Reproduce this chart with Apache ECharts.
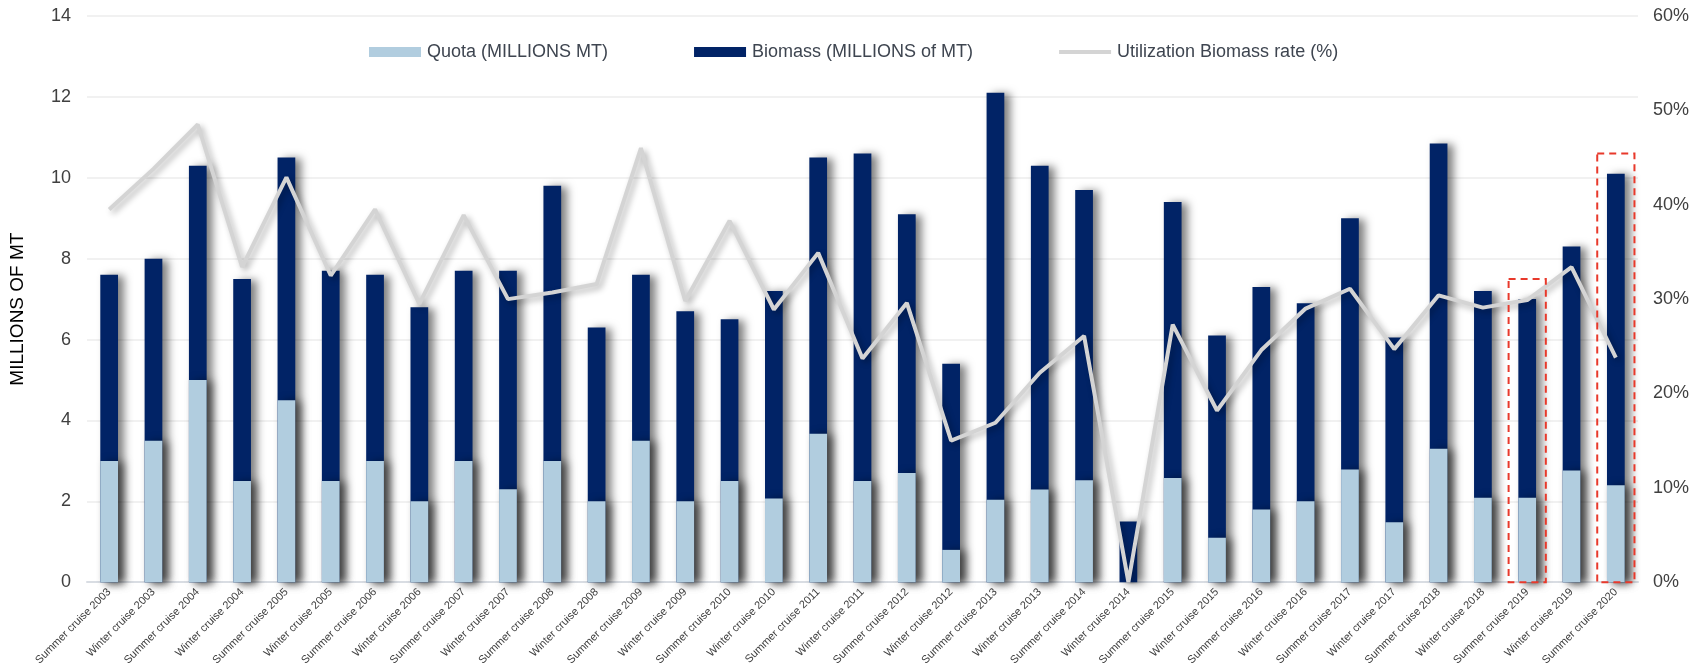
<!DOCTYPE html>
<html>
<head>
<meta charset="utf-8">
<script src="https://cdn.jsdelivr.net/npm/echarts@6/dist/echarts.min.js"></script>
<style>
html,body{margin:0;padding:0;background:#fff;}
#chart{width:1705px;height:668px;}
</style>
</head>
<body>
<div id="chart"></div>
<script>
var categories = [
  'Summer cruise 2003','Winter cruise 2003','Summer cruise 2004','Winter cruise 2004',
  'Summer cruise 2005','Winter cruise 2005','Summer cruise 2006','Winter cruise 2006',
  'Summer cruise 2007','Winter cruise 2007','Summer cruise 2008','Winter cruise 2008',
  'Summer cruise 2009','Winter cruise 2009','Summer cruise 2010','Winter cruise 2010',
  'Summer cruise 2011','Winter cruise 2011','Summer cruise 2012','Winter cruise 2012',
  'Summer cruise 2013','Winter cruise 2013','Summer cruise 2014','Winter cruise 2014',
  'Summer cruise 2015','Winter cruise 2015','Summer cruise 2016','Winter cruise 2016',
  'Summer cruise 2017','Winter cruise 2017','Summer cruise 2018','Winter cruise 2018',
  'Summer cruise 2019','Winter cruise 2019','Summer cruise 2020'
];
var biomass = [7.6,8.0,10.3,7.5,10.5,7.7,7.6,6.8,7.7,7.7,9.8,6.3,7.6,6.7,6.5,7.2,10.5,10.6,9.1,5.4,
  12.1,10.3,9.7,1.5,9.4,6.1,7.3,6.9,9.0,6.05,10.85,7.2,7.0,8.3,10.1];
var quota = [3.0,3.5,5.0,2.5,4.5,2.5,3.0,2.0,3.0,2.3,3.0,2.0,3.5,2.0,2.5,2.07,3.67,2.5,2.7,0.8,
  2.04,2.29,2.52,0,2.58,1.1,1.8,2.0,2.79,1.48,3.3,2.09,2.09,2.76,2.4];
var utilization = [39.5,43.8,48.5,33.4,42.9,32.5,39.5,29.5,38.9,30.0,30.7,31.6,46.0,29.8,38.3,28.9,34.9,23.7,29.6,15.0,
  16.9,22.2,26.1,0,27.3,18.2,24.6,29.0,31.1,24.7,30.4,29.1,29.9,33.4,23.8];
var leftTicks = [0,2,4,6,8,10,12,14];
var rightTicks = [0,10,20,30,40,50,60];
// highlighted categories (dashed boxes) and their box tops in MILLIONS MT
var highlightCats = ['Summer cruise 2019','Summer cruise 2020'];
var highlightTops = [7.5,10.6];

var chart = echarts.init(document.getElementById('chart'));
var txt = '#404040';
var legendTxt = '#3e4550';
var barShadow = {shadowColor:'rgba(0,0,0,0.5)', shadowBlur:8, shadowOffsetX:6, shadowOffsetY:1};
var option = {
  animation:false,
  backgroundColor:'#fff',
  textStyle:{fontFamily:'Liberation Sans, Arial, sans-serif'},
  legend:{
    left:364, top:38, itemWidth:52, itemHeight:10, itemGap:86,
    textStyle:{color:legendTxt, fontSize:18, fontFamily:'Liberation Sans, Arial, sans-serif', padding:[0,0,0,1]},
    data:[
      {name:'Quota (MILLIONS MT)', icon:'rect'},
      {name:'Biomass (MILLIONS of MT)', icon:'rect'},
      {name:'Utilization Biomass rate (%)', icon:'path://M0,0 L52,0 L52,4 L0,4 Z'}
    ]
  },
  grid:{left:86, right:67, top:16, bottom:78, containLabel:false},
  xAxis:{
    type:'category', data:categories,
    axisLine:{lineStyle:{color:'#d9dde3', width:2}},
    axisTick:{show:false},
    axisLabel:{rotate:45, fontSize:11, color:txt, margin:8, interval:0}
  },
  yAxis:[{
    type:'value', min:leftTicks[0], max:leftTicks[leftTicks.length-1], interval:2,
    name:'MILLIONS OF MT', nameLocation:'middle', nameGap:60, nameRotate:90,
    nameTextStyle:{fontSize:19, color:'#000', padding:[0,20,0,0]},
    axisLine:{show:false}, axisTick:{show:false},
    axisLabel:{fontSize:18, color:txt, margin:16},
    splitLine:{lineStyle:{color:'#ececec', width:1.5}}
  },{
    type:'value', min:rightTicks[0], max:rightTicks[rightTicks.length-1], interval:10,
    axisLine:{show:false}, axisTick:{show:false},
    axisLabel:{fontSize:18, color:txt, margin:15, formatter:'{value}%'},
    splitLine:{show:false}
  }],
  series:[
    {name:'Biomass (MILLIONS of MT)', type:'bar', data:biomass, barWidth:'40%', barGap:'-100%',
     itemStyle:Object.assign({color:'#012366'}, barShadow), z:2},
    {name:'Quota (MILLIONS MT)', type:'bar', data:quota, barWidth:'40%', barGap:'-100%',
     itemStyle:Object.assign({color:'#b1cddf'}, barShadow), z:3},
    {name:'Utilization Biomass rate (%)', type:'line', yAxisIndex:1, data:utilization,
     symbol:'none', z:4,
     itemStyle:{color:'#d4d4d4'},
     lineStyle:{color:'#d4d4d4', width:4, shadowColor:'rgba(0,0,0,0.3)', shadowBlur:6, shadowOffsetX:3, shadowOffsetY:3}}
  ]
};
chart.setOption(option);

// dashed highlight boxes computed from the chart's scales
var xAxisModel = chart.getModel().getComponent('xAxis',0);
var band = xAxisModel.axis.getBandWidth();
var graphics = [];
highlightCats.forEach(function(c,i){
  var top = chart.convertToPixel({xAxisIndex:0,yAxisIndex:0},[c, highlightTops[i]]);
  var bot = chart.convertToPixel({xAxisIndex:0,yAxisIndex:0},[c, 0]);
  var hw = band*0.42;
  graphics.push({type:'rect', z:10, silent:true,
    shape:{x:top[0]-hw, y:top[1], width:hw*2, height:bot[1]-top[1]},
    style:{fill:'none', stroke:'#e8392b', lineWidth:2, lineDash:[7,5]}});
});
chart.setOption({graphic:graphics});
</script>
</body>
</html>
